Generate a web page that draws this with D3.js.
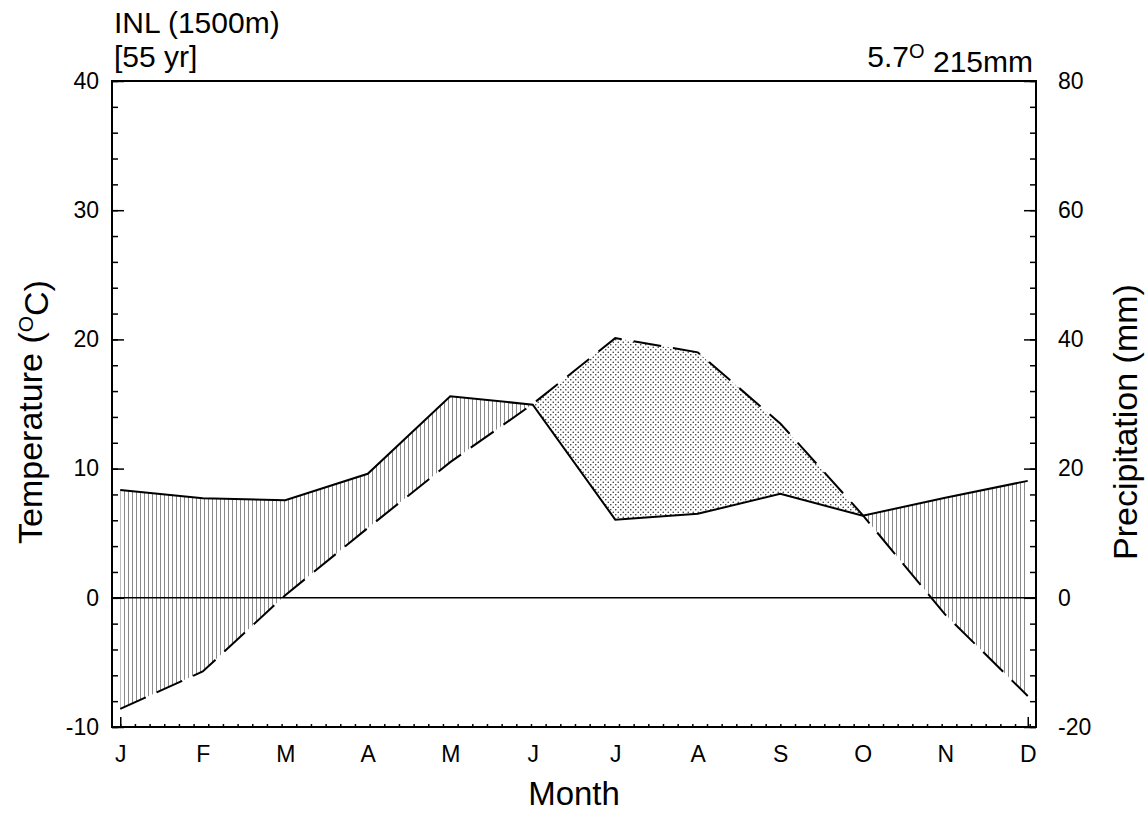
<!DOCTYPE html>
<html>
<head>
<meta charset="utf-8">
<script src="https://cdn.jsdelivr.net/npm/d3@7"></script>
<style>
    body { margin: 0; background: #fff; }
    text { font-family: "Liberation Sans", Arial, sans-serif; fill: #000; }
</style>
</head>
<body>
<div id="container"></div>
<script>
    "use strict";

    // monthly climate normals, INL
    var months = ["J", "F", "M", "A", "M", "J", "J", "A", "S", "O", "N", "D"];
    var temperature = [-8.6, -5.7, 0.2, 5.4, 10.5, 15.0, 20.1, 19.0, 13.5, 6.4, -1.3, -7.6];
    var precipitation = [16.7, 15.4, 15.1, 19.2, 31.2, 29.9, 12.1, 13.0, 16.1, 12.7, 15.5, 18.1];
    var tempTicks = [-10, 0, 10, 20, 30, 40];
    var precipTicks = [-20, 0, 20, 40, 60, 80];

    var margin = { top: 81, left: 112, right: 109, bottom: 87 };
    var width = 1145 - margin.left - margin.right,
        height = 814 - margin.top - margin.bottom;

    var x = d3.scaleLinear().domain([0.9, 12.1]).range([0, width]),
        yT = d3.scaleLinear().domain([-10, 40]).range([height, 0]),
        yP = d3.scaleLinear().domain([-20, 80]).range([height, 0]);

    var data = months.map(function(m, i) {
        return { month: i + 1, t: temperature[i], p: precipitation[i] };
    });

    var svg = d3.select("#container").append("svg")
        .attr("width", 1145)
        .attr("height", 814)
        .style("background-color", "#fff");

    var defs = svg.append("defs");

    var hatch = defs.append("pattern")
        .attr("id", "hatch")
        .attr("patternUnits", "userSpaceOnUse")
        .attr("width", 4).attr("height", 10);
    hatch.append("line")
        .attr("x1", 0.5).attr("x2", 0.5)
        .attr("y1", 0).attr("y2", 10)
        .attr("stroke", "#8a8a8a").attr("stroke-width", 1);

    var dots = defs.append("pattern")
        .attr("id", "dots")
        .attr("patternUnits", "userSpaceOnUse")
        .attr("width", 5).attr("height", 5);
    dots.append("circle").attr("cx", 1.25).attr("cy", 1.25).attr("r", 0.8).attr("fill", "#333");
    dots.append("circle").attr("cx", 3.75).attr("cy", 3.75).attr("r", 0.8).attr("fill", "#333");

    var graph = svg.append("g")
        .attr("transform", "translate(" + margin.left + "," + margin.top + ")");

    // clip regions above each curve (in the graph's own coordinates)
    var aboveT = d3.area()
        .x(function(d) { return x(d.month); })
        .y0(-10)
        .y1(function(d) { return yT(d.t); });
    var aboveP = d3.area()
        .x(function(d) { return x(d.month); })
        .y0(-10)
        .y1(function(d) { return yP(d.p); });

    defs.append("clipPath").attr("id", "clipAboveT")
        .append("path").attr("d", aboveT(data));
    defs.append("clipPath").attr("id", "clipAboveP")
        .append("path").attr("d", aboveP(data));

    // humid: below precipitation, above temperature
    graph.append("g").attr("clip-path", "url(#clipAboveT)")
        .append("path")
        .attr("fill", "url(#hatch)")
        .attr("d", d3.area()
            .x(function(d) { return x(d.month); })
            .y0(height)
            .y1(function(d) { return yP(d.p); })(data));

    // arid: below temperature, above precipitation
    graph.append("g").attr("clip-path", "url(#clipAboveP)")
        .append("path")
        .attr("fill", "url(#dots)")
        .attr("d", d3.area()
            .x(function(d) { return x(d.month); })
            .y0(height)
            .y1(function(d) { return yT(d.t); })(data));

    // zero line
    graph.append("line")
        .attr("x1", 0).attr("x2", width)
        .attr("y1", yT(0)).attr("y2", yT(0))
        .attr("stroke", "#000").attr("stroke-width", 1.5);

    graph.append("path")
        .datum(data)
        .attr("fill", "none")
        .attr("stroke", "#000")
        .attr("stroke-width", 2)
        .attr("d", d3.line()
            .x(function(d) { return x(d.month); })
            .y(function(d) { return yP(d.p); }));

    graph.append("path")
        .datum(data)
        .attr("fill", "none")
        .attr("stroke", "#000")
        .attr("stroke-width", 2)
        .attr("stroke-dasharray", "28,12")
        .attr("d", d3.line()
            .x(function(d) { return x(d.month); })
            .y(function(d) { return yT(d.t); }));

    // axes
    function styleAxis(g) {
        g.select(".domain").remove();
        g.selectAll("line").attr("stroke", "#000").attr("stroke-width", 1.5);
        g.selectAll("text").style("font-size", "23px")
            .style("font-family", "'Liberation Sans', Arial, sans-serif");
    }
    var plain = function(d) { return String(d); };

    graph.append("g")
        .call(d3.axisLeft(yT).tickValues(d3.range(-10, 41, 2)).tickSize(-6).tickFormat(""))
        .call(styleAxis);
    graph.append("g")
        .call(d3.axisLeft(yT).tickValues(tempTicks).tickSize(-12).tickPadding(13).tickFormat(plain))
        .call(styleAxis);

    graph.append("g")
        .attr("transform", "translate(" + width + ",0)")
        .call(d3.axisRight(yP).tickValues(d3.range(-20, 81, 4)).tickSize(-6).tickFormat(""))
        .call(styleAxis);
    graph.append("g")
        .attr("transform", "translate(" + width + ",0)")
        .call(d3.axisRight(yP).tickValues(precipTicks).tickSize(-12).tickPadding(22).tickFormat(plain))
        .call(styleAxis);

    graph.append("g")
        .attr("transform", "translate(0," + height + ")")
        .call(d3.axisBottom(x).tickValues(d3.range(1, 12.05, 0.1778)).tickSize(-3).tickFormat(""))
        .call(styleAxis);
    graph.append("g")
        .attr("transform", "translate(0," + height + ")")
        .call(d3.axisBottom(x).tickValues([1, 12]).tickSize(-10).tickFormat(""))
        .call(styleAxis);
    graph.append("g")
        .attr("transform", "translate(0," + height + ")")
        .call(d3.axisBottom(x).tickValues(d3.range(1, 13)).tickSize(0).tickPadding(19)
            .tickFormat(function(d) { return months[d - 1]; }))
        .call(styleAxis);

    // frame
    graph.append("rect")
        .attr("width", width).attr("height", height)
        .attr("fill", "none").attr("stroke", "#000").attr("stroke-width", 2);

    // titles
    svg.append("text").attr("x", 114).attr("y", 33).style("font-size", "30px").text("INL (1500m)");
    svg.append("text").attr("x", 114).attr("y", 67).style("font-size", "30px").text("[55 yr]");

    var summary = svg.append("text")
        .attr("x", 1033).attr("y", 67)
        .attr("text-anchor", "end")
        .style("font-size", "30px");
    summary.append("tspan").text("5.7");
    summary.append("tspan").attr("dy", "-0.45em").style("font-size", "20px").text("O");
    summary.append("tspan").attr("dy", "0.45em").text(" 215mm");

    var tTitle = svg.append("text")
        .attr("transform", "translate(42,412) rotate(-90)")
        .attr("text-anchor", "middle")
        .style("font-size", "34px");
    tTitle.append("tspan").text("Temperature (");
    tTitle.append("tspan").attr("dy", "-0.45em").style("font-size", "21px").text("O");
    tTitle.append("tspan").attr("dy", "0.45em").text("C)");

    svg.append("text")
        .attr("transform", "translate(1137,422) rotate(-90)")
        .attr("text-anchor", "middle")
        .style("font-size", "34px")
        .text("Precipitation (mm)");

    svg.append("text")
        .attr("x", 574).attr("y", 805)
        .attr("text-anchor", "middle")
        .style("font-size", "33px")
        .text("Month");
</script>
</body>
</html>
